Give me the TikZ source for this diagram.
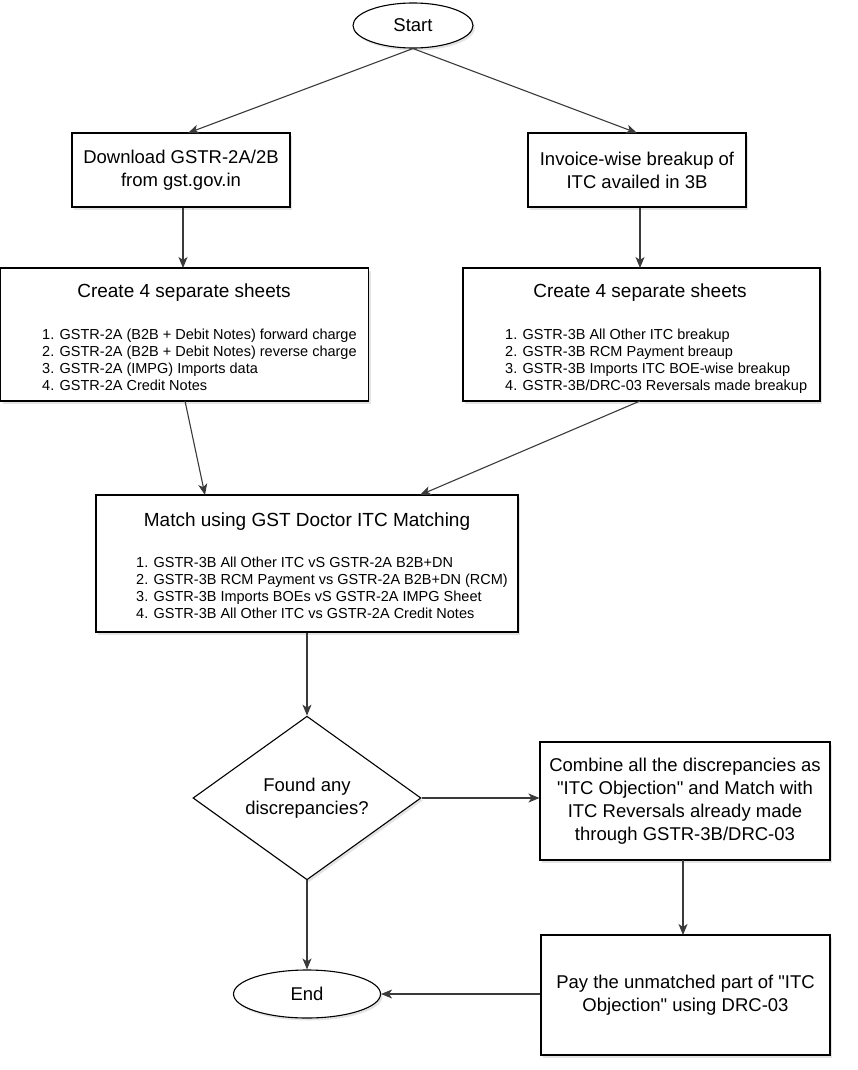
\documentclass[tikz,border=0pt]{standalone}
\usepackage{fontspec}
\setmainfont{Liberation Sans}[Ligatures=TeXOff]
\usetikzlibrary{shapes.geometric,arrows.meta,shadows}
\definecolor{linecol}{HTML}{3A3A3A}
\begin{document}
\begin{tikzpicture}[x=1pt,y=-1pt,
  shade/.style={drop shadow={shadow xshift=2pt,shadow yshift=-2.5pt,opacity=0.3,fill=gray!70}},
  box/.style={draw=black,line width=1.1pt,fill=white,shade,inner sep=2pt,align=center,
    font=\fontsize{18.5}{23}\selectfont},
  term/.style={box,ellipse},
  ttl/.style={font=\fontsize{19}{23}\selectfont,inner sep=0pt},
  lst/.style={font=\fontsize{14.5}{17}\selectfont,align=left,anchor=north west,inner sep=0pt},
  conn/.style={draw=linecol,line width=1.1pt,-{Stealth[length=11pt,width=9pt,inset=3pt]}}
]
\useasboundingbox (0,0) rectangle (858,1070);
\node[term,minimum width=120,minimum height=45] (start) at (413,25.5) {Start};
\node[box,minimum width=218,minimum height=74] (dl) at (181,170) {Download GSTR-2A/2B\\from gst.gov.in};
\node[box,minimum width=218,minimum height=74] (inv) at (637,170) {Invoice-wise breakup of\\ITC availed in 3B};
\node[box,minimum width=368,minimum height=133] (sh1) at (184.5,334.5) {};
\node[ttl] at (184,293) {Create 4 separate sheets};
\node[lst] at (42,328.5) {1. GSTR-2A (B2B + Debit Notes) forward charge\\2. GSTR-2A (B2B + Debit Notes) reverse charge\\3. GSTR-2A (IMPG) Imports data\\4. GSTR-2A Credit Notes};
\node[box,minimum width=357,minimum height=133] (sh2) at (641.5,334.5) {};
\node[ttl] at (640,293) {Create 4 separate sheets};
\node[lst] at (505,328.5) {1. GSTR-3B All Other ITC breakup\\2. GSTR-3B RCM Payment breaup\\3. GSTR-3B Imports ITC BOE-wise breakup\\4. GSTR-3B/DRC-03 Reversals made breakup};
\node[box,minimum width=422,minimum height=137] (match) at (307,563.5) {};
\node[ttl] at (307,522) {Match using GST Doctor ITC Matching};
\node[lst] at (136,556.5) {1. GSTR-3B All Other ITC vS GSTR-2A B2B+DN\\2. GSTR-3B RCM Payment vs GSTR-2A B2B+DN (RCM)\\3. GSTR-3B Imports BOEs vS GSTR-2A IMPG Sheet\\4. GSTR-3B All Other ITC vs GSTR-2A Credit Notes};
\node[box,diamond,minimum width=228,minimum height=120,inner sep=0pt] (dec) at (307,798) {Found any\\discrepancies?};
\node[box,minimum width=290,minimum height=118] (comb) at (685,801) {Combine all the discrepancies as\\"ITC Objection" and Match with\\ITC Reversals already made\\through GSTR-3B/DRC-03};
\node[box,minimum width=289,minimum height=120] (pay) at (685.5,995) {Pay the unmatched part of "ITC\\Objection" using DRC-03};
\node[term,minimum width=147,minimum height=48] (end) at (307,994) {End};
\draw[conn] (start.south) -- (188,133);
\draw[conn] (start.south) -- (637,133);
\draw[conn] (dl.south -| 183,0) -- (183,268);
\draw[conn] (inv.south -| 640,0) -- (640,268);
\draw[conn] (185,401) -- (205,495);
\draw[conn] (640,401) -- (420,495);
\draw[conn] (match.south) -- (dec.north);
\draw[conn] (dec.east) -- (dec.east -| comb.west);
\draw[conn] (683,860) -- (683,935);
\draw[conn] (dec.south) -- (end.north);
\draw[conn] (pay.west |- end.east) -- (end.east);
\end{tikzpicture}
\end{document}
